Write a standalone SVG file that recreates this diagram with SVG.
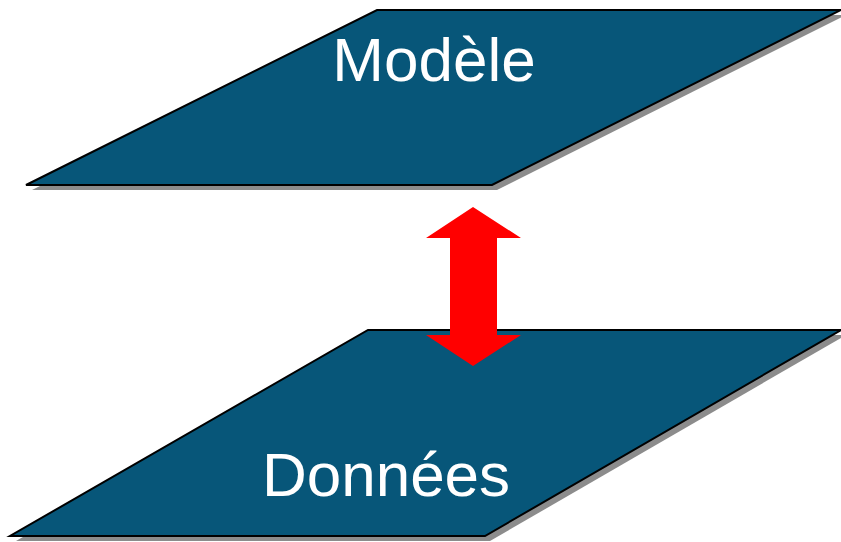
<svg xmlns="http://www.w3.org/2000/svg" width="841" height="542" viewBox="0 0 841 542">
<style>
.shadow{fill:#8c8c8c;}
.plane{fill:#075679;stroke:#000;stroke-width:2;stroke-linejoin:miter;}
.label{font-family:"Liberation Sans",Arial,sans-serif;font-size:62px;fill:#fff;text-anchor:middle;}
.arrow{fill:#ff0000;}
</style>
<rect width="841" height="542" fill="#fff"/>
<g id="modele">
<polygon class="shadow" points="32,190 497,190 846,15 383,15"/>
<polygon class="plane" points="26,185 492,185 841,10 377,10"/>
<text class="label" x="434" y="81">Modèle</text>
</g>
<g id="donnees">
<polygon class="shadow" points="16,541 490,541 846,335 374,335"/>
<polygon class="plane" points="10,536 485,536 841,330 368,330"/>
<text class="label" x="386" y="496">Données</text>
</g>
<g id="connectors">
<polygon class="arrow" points="473,207 521,238 497,238 497,335 521,335 473,366 426,335 450,335 450,238 426,238"/>
</g>
</svg>
